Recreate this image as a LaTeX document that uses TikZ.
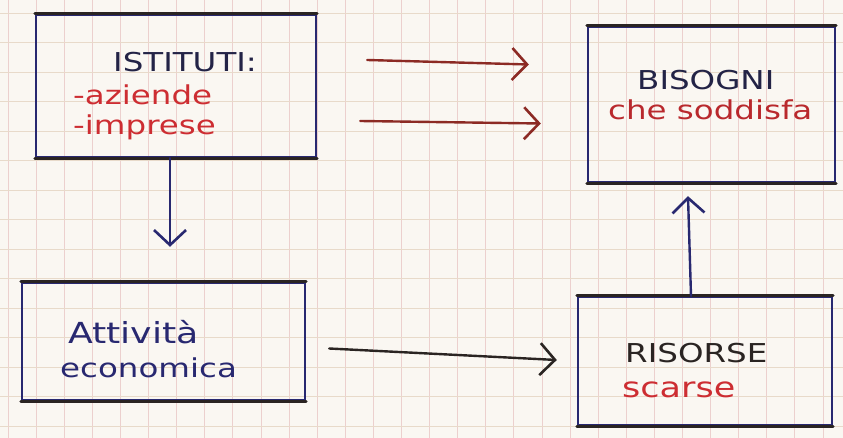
\documentclass[tikz,border=0pt]{standalone}
\usepackage{fontspec}
\setmainfont[FakeStretch=1.25]{DejaVu Sans}
\usetikzlibrary{arrows.meta}
\definecolor{paper}{RGB}{250,247,242}
\definecolor{gridv}{RGB}{236,208,206}
\definecolor{gridh}{RGB}{232,218,202}
\definecolor{inkblack}{RGB}{42,36,34}
\definecolor{inknavy}{RGB}{40,40,112}
\definecolor{inkred}{RGB}{205,45,50}
\definecolor{inkbrown}{RGB}{140,42,36}
\definecolor{titleink}{RGB}{35,35,70}
\begin{document}
\begin{tikzpicture}[x=1pt,y=-1pt,
  boxside/.style={draw=inknavy,line width=2.4pt,inner sep=0pt},
  boxedge/.style={draw=inkblack,line width=3pt,line cap=round},
  title/.style={inner sep=0pt,anchor=base west,font=\fontsize{26}{30}\selectfont,text=titleink},
  sub/.style={inner sep=0pt,anchor=base west,font=\fontsize{26}{30}\selectfont,text=inkred},
  arr/.style={line width=2.4pt,line cap=round,-{Straight Barb[length=15pt,width=32pt,line width=2.6pt]}}
]
\useasboundingbox (0,0) rectangle (843,438);
\fill[paper] (0,0) rectangle (843,438);
\foreach \k in {0,...,30} {\draw[gridv,line width=0.8pt] (8+28.1*\k,0) -- (8+28.1*\k,438);}
\foreach \k in {0,...,14} {\draw[gridh,line width=0.8pt] (0,13+29.5*\k) -- (843,13+29.5*\k);}

% boxes
\node[boxside,minimum width=280pt,minimum height=142pt] (istituti) at (176,86) {};
\node[boxside,minimum width=247pt,minimum height=155pt] (bisogni) at (711.5,104.5) {};
\node[boxside,minimum width=283pt,minimum height=117pt] (attivita) at (163.5,341.5) {};
\node[boxside,minimum width=254pt,minimum height=128pt] (risorse) at (705,361) {};
\foreach \b in {istituti,bisogni,attivita,risorse} {
  \draw[boxedge] (\b.north west) -- (\b.north east);
  \draw[boxedge] (\b.south west) -- (\b.south east);
}

% texts
\node[title] (t1) at (113,72) {ISTITUTI:};
\node[sub] (s1a) at (73,105) {-aziende};
\node[sub] (s1b) at (73,135) {-imprese};
\node[title] (t2) at (637,90) {BISOGNI};
\node[sub,text=inkred!90!black] (s2) at (608,120) {che soddisfa};
\node[title,text=inknavy,font=\fontsize{29}{32}\selectfont] (t3) at (68,343) {Attività};
\node[title,text=inknavy] (t3b) at (60,377) {economica};
\node[title,text=inkblack] (t4) at (625,362) {RISORSE};
\node[sub,font=\fontsize{28}{30}\selectfont] (s4) at (622,397) {scarse};

% connectors
\draw[arr,draw=inkbrown] ([xshift=50pt,yshift=26pt]istituti.east) -- ([xshift=-58pt,yshift=40pt]bisogni.west);
\draw[arr,draw=inkbrown] ([xshift=43pt,yshift=-35pt]istituti.east) -- ([xshift=-46pt,yshift=-19pt]bisogni.west);
\draw[arr,draw=inknavy] ([xshift=-6pt]istituti.south) -- ([xshift=6.5pt,yshift=35pt]attivita.north);
\draw[arr,draw=inkblack] ([xshift=23pt,yshift=-7pt]attivita.east) -- ([xshift=-20pt,yshift=1pt]risorse.west);
\draw[arr,draw=inknavy] ([xshift=-14pt]risorse.north) -- ([xshift=-23.5pt,yshift=-13pt]bisogni.south);
\end{tikzpicture}
\end{document}
